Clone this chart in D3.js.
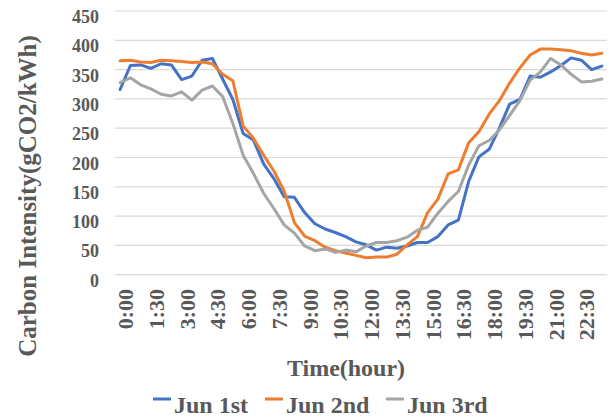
<!DOCTYPE html>
<html>
<head>
<meta charset="utf-8">
<script src="https://cdn.jsdelivr.net/npm/d3@7"></script>
<style>
  html, body { margin: 0; padding: 0; background: #fff; }
  svg { display: block; }
  text { font-family: "Liberation Serif", "Times New Roman", serif; font-weight: bold; fill: #595959; }
</style>
</head>
<body>
<svg id="chart" width="615" height="419"></svg>
<script>
const categories = ["0:00","0:30","1:00","1:30","2:00","2:30","3:00","3:30","4:00","4:30","5:00","5:30",
  "6:00","6:30","7:00","7:30","8:00","8:30","9:00","9:30","10:00","10:30","11:00","11:30",
  "12:00","12:30","13:00","13:30","14:00","14:30","15:00","15:30","16:00","16:30","17:00","17:30",
  "18:00","18:30","19:00","19:30","20:00","20:30","21:00","21:30","22:00","22:30","23:00","23:30"];

const tickLabels = ["0:00","1:30","3:00","4:30","6:00","7:30","9:00","10:30","12:00","13:30","15:00","16:30","18:00","19:30","21:00","22:30"];
const yTicks = [0, 50, 100, 150, 200, 250, 300, 350, 400, 450];

const seriesNames = ["Jun 1st", "Jun 2nd", "Jun 3rd"];
const seriesColors = ["#4472C4", "#ED7D31", "#A5A5A5"];

const jun1 = [316,357,358,352,360,358,333,339,366,369,334,299,
  241,230,189,164,133,132,106,87,78,72,65,56,
  51,42,47,45,49,55,55,65,85,93,159,201,
  214,250,291,299,339,337,346,357,370,366,350,356];
const jun2 = [365,366,363,362,366,365,364,362,363,360,342,331,
  254,233,204,177,143,89,66,58,47,41,37,33,
  29,30,30,35,51,65,106,129,172,179,225,244,
  274,297,327,353,375,385,385,384,382,378,375,378];
const jun3 = [328,336,324,317,308,305,312,298,315,322,304,258,
  204,173,139,113,85,71,49,41,44,38,42,39,
  49,55,55,58,64,76,81,105,125,142,187,220,
  229,247,272,297,332,346,369,358,342,329,330,334];

const seriesValues = [jun1, jun2, jun3];

const svg = d3.select("#chart");
const plotLeft = 115, plotRight = 607, plotTop = 11, plotBottom = 274.7;

const x = d3.scalePoint().domain(categories).range([plotLeft, plotRight]).padding(0.5);
const y = d3.scaleLinear().domain([0, 450]).range([plotBottom, plotTop]);

// gridlines
svg.append("g").selectAll("line").data(yTicks).join("line")
  .attr("x1", plotLeft).attr("x2", plotRight)
  .attr("y1", d => y(d)).attr("y2", d => y(d))
  .attr("stroke", "#d9d9d9").attr("stroke-width", 1.2);

// y tick labels
svg.append("g").selectAll("text").data(yTicks).join("text")
  .attr("x", 99).attr("y", d => y(d) + 12)
  .attr("text-anchor", "end")
  .style("font-size", "18px")
  .text(d => d);

// x tick labels
svg.append("g").selectAll("text").data(tickLabels).join("text")
  .attr("transform", d => `translate(${x(d) + 13},289) rotate(-90)`)
  .attr("text-anchor", "end")
  .style("font-size", "22px")
  .text(d => d);

// lines
const line = d3.line().x((d, i) => x(categories[i])).y(d => y(d));
svg.append("g").selectAll("path").data(seriesValues).join("path")
  .attr("d", d => line(d))
  .attr("fill", "none")
  .attr("stroke", (d, i) => seriesColors[i])
  .attr("stroke-width", 3)
  .attr("stroke-linejoin", "round")
  .attr("stroke-linecap", "round");

// axis titles
svg.append("text")
  .attr("transform", "translate(36,196) rotate(-90)")
  .attr("text-anchor", "middle")
  .style("font-size", "25px")
  .text("Carbon Intensity(gCO2/kWh)");

svg.append("text")
  .attr("x", 346).attr("y", 376)
  .attr("text-anchor", "middle")
  .style("font-size", "24px")
  .text("Time(hour)");

// legend
const legendX = [153, 265, 386];
const lg = svg.append("g").selectAll("g").data(seriesNames).join("g")
  .attr("transform", (d, i) => `translate(${legendX[i]},0)`);
lg.append("line")
  .attr("x1", 0).attr("x2", 18).attr("y1", 399).attr("y2", 399)
  .attr("stroke", (d, i) => seriesColors[i]).attr("stroke-width", 3);
lg.append("text")
  .attr("x", 21).attr("y", 413)
  .style("font-size", "24px")
  .text(d => d);
</script>
</body>
</html>
